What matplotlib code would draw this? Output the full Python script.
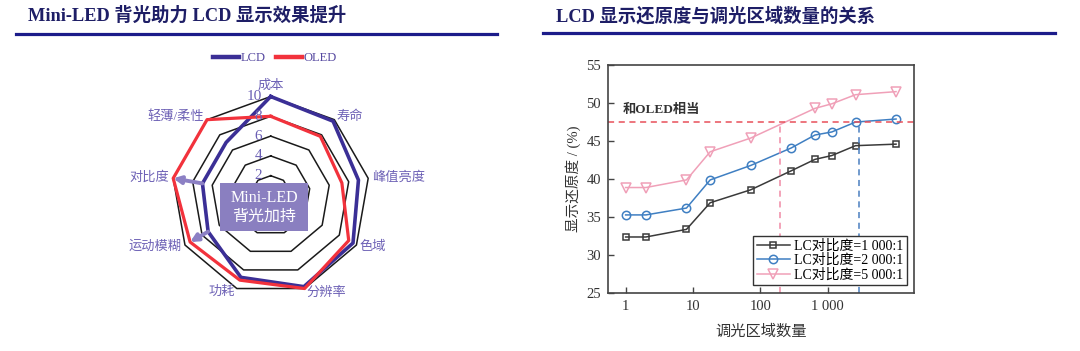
import numpy as np
import matplotlib
matplotlib.use("Agg")
import matplotlib.pyplot as plt
from matplotlib.lines import Line2D
from matplotlib.patches import Rectangle

plt.rcParams['font.family'] = ['Liberation Serif', 'Noto Sans CJK SC', 'DejaVu Sans']

# ---- 左图 雷达 ----
radar_cats = ["成本", "寿命", "峰值亮度", "色域", "分辨率", "功耗", "运动模糊", "对比度", "轻薄/柔性"]
lcd_vals = [10, 9.8, 9.0, 9.6, 9.8, 8.8, 7.3, 7.0, 7.0]
oled_vals = [8.0, 7.8, 7.3, 9.1, 10, 9.1, 9.4, 10, 10]
ring_levels = [2, 4, 6, 8, 10]

# ---- 右图 ----
zones_a = [1, 2, 8, 18, 72, 288, 648, 1152, 2592, 10368]
lc1000 = [32.4, 32.4, 33.4, 36.9, 38.6, 41.1, 42.6, 43.1, 44.4, 44.6]
lc2000 = [35.3, 35.3, 36.2, 39.9, 41.8, 44.1, 45.8, 46.2, 47.5, 47.9]
zones_b = [1, 2, 8, 18, 72, 648, 1152, 2592, 10368]
lc5000 = [38.9, 38.9, 39.9, 43.6, 45.4, 49.3, 49.9, 51.1, 51.5]
oled_level = 47.45
cross_5000 = 196
cross_2000 = 2900
xticks = [1, 10, 100, 1000]
xtick_labels = ["1", "10", "100", "1 000"]
yticks = [25, 30, 35, 40, 45, 50, 55]
series_labels = ["LC对比度=1 000:1", "LC对比度=2 000:1", "LC对比度=5 000:1"]

W, H = 1080, 351
fig = plt.figure(figsize=(W / 100, H / 100), dpi=100)
fig.patch.set_facecolor("white")

title_col = "#1E1E66"
bar_col = "#1C1C8A"
fig.text(28 / W, 1 - 16 / H, "Mini-LED 背光助力 LCD 显示效果提升", fontsize=13.2,
         fontweight="bold", color=title_col, va="center", ha="left")
fig.text(556 / W, 1 - 16 / H, "LCD 显示还原度与调光区域数量的关系", fontsize=13.2,
         fontweight="bold", color=title_col, va="center", ha="left")
fig.add_artist(Line2D([16 / W, 497 / W], [1 - 34 / H] * 2, color=bar_col, lw=2.3))
fig.add_artist(Line2D([543 / W, 1055 / W], [1 - 33 / H] * 2, color=bar_col, lw=2.3))

# radar
cx, cy, R = 270.7, 195.5, 99
ax = fig.add_axes([(cx - R) / W, 1 - (cy + R) / H, 2 * R / W, 2 * R / H], projection="polar")
ax.set_theta_offset(np.pi / 2)
ax.set_theta_direction(-1)
ax.set_ylim(0, 10)
ax.grid(False)
ax.set_xticks([])
ax.set_yticks([])
ax.spines["polar"].set_visible(False)
ax.patch.set_alpha(0)

n = len(radar_cats)
theta = np.linspace(0, 2 * np.pi, n, endpoint=False)
theta_c = np.append(theta, theta[0])

for lv in ring_levels:
    ax.plot(theta_c, [lv] * (n + 1), color="#1a1a1a", lw=1.1, clip_on=False, zorder=2)

lcd_col = "#3B2F96"
oled_col = "#F2323C"
ax.plot(theta_c, lcd_vals + lcd_vals[:1], color=lcd_col, lw=2.6, clip_on=False, zorder=3)
ax.plot(theta_c, oled_vals + oled_vals[:1], color=oled_col, lw=2.3, clip_on=False, zorder=4)

lab_col = "#6E62B6"
for t, cat in zip(theta, radar_cats):
    xs = np.sin(t)
    if xs > 0.1:
        ha = "left"
    elif xs < -0.1:
        ha = "right"
    else:
        ha = "center"
    if cat == "成本":
        ax.text(t, 10.5, cat, ha=ha, va="bottom", fontsize=9.5, color=lab_col)
    else:
        ax.text(t, 10.4, cat, ha=ha, va="center", fontsize=9.5, color=lab_col)

for lv in ring_levels:
    ax.annotate(str(lv), xy=(0, lv), xytext=(-6, 0), textcoords="offset points",
                ha="right", va="center", fontsize=11, color="#6A5EB4", zorder=5)

arrow_col = "#8C80C4"
for cat in ["对比度", "运动模糊"]:
    i = radar_cats.index(cat)
    ax.annotate("", xy=(theta[i], oled_vals[i]), xytext=(theta[i], lcd_vals[i]),
                arrowprops=dict(arrowstyle="-|>", color=arrow_col, lw=2.8, mutation_scale=11,
                                shrinkA=0, shrinkB=0), zorder=6)

fig.add_artist(Rectangle((220 / W, 1 - 231 / H), 88 / W, 48.5 / H, facecolor="#8A7FC0",
                         edgecolor="none", zorder=5))
fig.text(264 / W, 1 - 207 / H, "Mini-LED\n背光加持", color="white", fontsize=11.5,
         ha="center", va="center", linespacing=1.25, zorder=6)

leg_handles = [Line2D([], [], color=lcd_col, lw=3.2), Line2D([], [], color=oled_col, lw=3.2)]
ax.legend(leg_handles, ["LCD", "OLED"], loc="center", bbox_to_anchor=(275 / W, 1 - 58 / H),
          bbox_transform=fig.transFigure, ncol=2, frameon=False, fontsize=9,
          handlelength=2.1, columnspacing=0.8, handletextpad=0.15, labelcolor="#5548A0")

# line chart
bx = fig.add_axes([608 / W, 1 - 293.3 / H, 306 / W, 228.3 / H])
bx.set_xscale("log")
gray = "#3A3A3A"
blue = "#3F7FC2"
pink = "#F0A0B8"
bx.plot(zones_a, lc1000, color=gray, lw=1.1, marker="s", ms=5, mfc="none", mew=1.1,
        label=series_labels[0])
bx.plot(zones_a, lc2000, color=blue, lw=1.1, marker="o", ms=6, mfc="none", mew=1.1,
        label=series_labels[1])
bx.plot(zones_b, lc5000, color=pink, lw=1.1, marker="v", ms=7, mfc="none", mew=1.1,
        label=series_labels[2])
bx.axhline(oled_level, color="#E8505A", lw=1.1, ls=(0, (4, 3)))
bx.vlines(cross_5000, 25, oled_level, color="#F08AA6", lw=1.1, ls=(0, (4, 3)))
bx.vlines(cross_2000, 25, oled_level, color="#4A7FC0", lw=1.1, ls=(0, (4, 3)))
bx.text(0.91, 49.1, "和OLED相当", fontsize=9.5, fontweight="bold", color="#333333",
        ha="left", va="center")

bx.set_xlim(0.547, 19150)
bx.set_ylim(25, 55)
bx.set_xticks(xticks)
bx.set_xticklabels(xtick_labels)
bx.xaxis.set_minor_locator(matplotlib.ticker.NullLocator())
bx.set_yticks(yticks)
bx.tick_params(direction="in", length=4, width=1, colors="#444444", labelsize=10.5,
               labelcolor="#333333", pad=5)
for s in bx.spines.values():
    s.set_color("#444444")
    s.set_linewidth(1.2)
bx.set_ylabel("显示还原度 / (%)", fontsize=10.5, color="#333333", labelpad=4)
bx.set_xlabel("调光区域数量", fontsize=11, color="#333333", labelpad=8)

bx.legend(loc="lower right", bbox_to_anchor=(1 - 7 / 306, 8 / 228.3), borderaxespad=0,
          fontsize=10, fancybox=False, edgecolor="#333333", framealpha=1,
          handlelength=2.4, handletextpad=0.3, borderpad=0.25, labelspacing=0.1)

fig.savefig("out.png", dpi=100, facecolor="white")
